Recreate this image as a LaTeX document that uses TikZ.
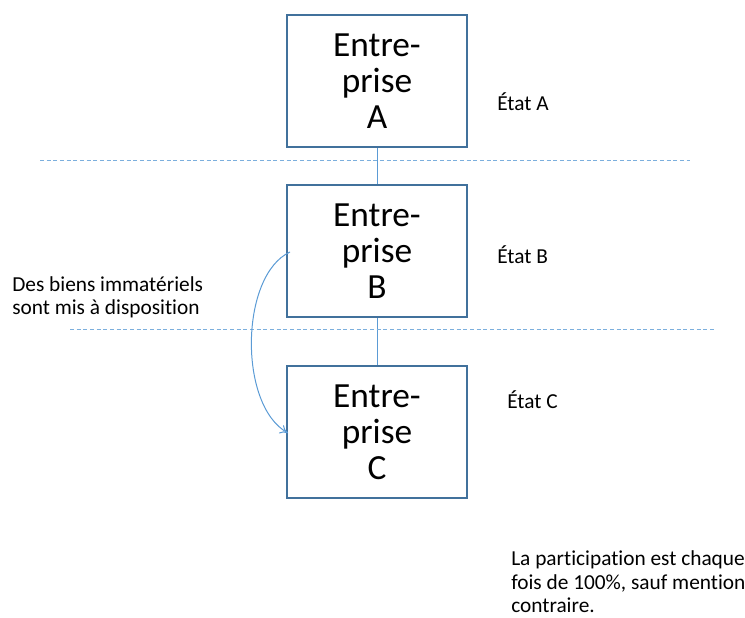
\documentclass[tikz,border=0pt]{standalone}
\usepackage{fontspec}
\setmainfont{Carlito}[Ligatures=NoCommon]
\usetikzlibrary{arrows.meta}
\definecolor{boxline}{HTML}{41719C}
\definecolor{linkline}{HTML}{5B9BD5}
\begin{document}
\begin{tikzpicture}[x=0.75pt,y=-0.75pt,
  firm/.style={draw=boxline,line width=1.5pt,minimum width=180*0.75pt,minimum height=132*0.75pt,
    align=center,font=\fontsize{26.5}{27}\selectfont,inner sep=0pt},
  label/.style={font=\fontsize{16}{17.5}\selectfont,align=left,inner sep=0pt,anchor=west},
  border/.style={draw=linkline!80,dashed,line width=0.75pt,dash pattern=on 3pt off 2pt},
  link/.style={draw=linkline,line width=0.75pt}]
\useasboundingbox (0,0) rectangle (745,617);
\node[firm] (a) at (377,81) {Entre-\\prise\\A};
\node[firm] (b) at (377,251) {Entre-\\prise\\B};
\node[firm] (c) at (377,432) {Entre-\\prise\\C};
\draw[link] (a.south) -- (b.north);
\draw[link] (b.south) -- (c.north);
\coordinate (d1l) at (40,160); \coordinate (d1r) at (690,160);
\coordinate (d2l) at (70,329); \coordinate (d2r) at (715,329);
\draw[border] (d1l) -- (d1r);
\draw[border] (d2l) -- (d2r);
\node[label] (ea) at (497,102) {État A};
\node[label] (eb) at (497,255) {État B};
\node[label] (ec) at (507,400) {État C};
\node[label] (goods) at (12,297) {Des biens immatériels\\sont mis à disposition};
\node[label] (note) at (511,582) {La participation est chaque\\fois de 100\%, sauf mention\\contraire.};
\coordinate (s) at (290,252);
\coordinate (t) at (288,433);
\draw[link,-{To[length=6pt,width=7pt]}] (s) .. controls (240,275) and (238,405) .. (t);
\end{tikzpicture}
\end{document}
